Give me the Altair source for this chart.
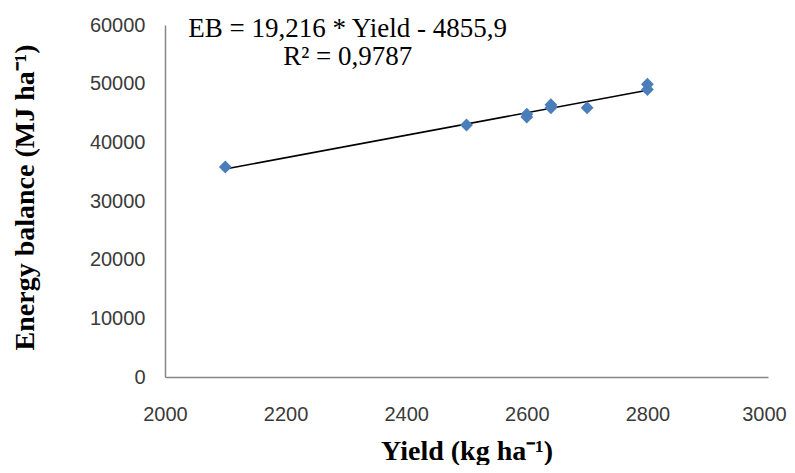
import altair as alt
import pandas as pd

yield_kg = [2100, 2500, 2600, 2600, 2640, 2640, 2700, 2800, 2800]
energy_balance = [35800, 42950, 44300, 44800, 45900, 46400, 45900, 49000, 49900]

# Annotation (equation of the trend line)
eq_lines = ["EB = 19,216 * Yield - 4855,9", "R\u00b2 = 0,9787"]
eq_x = [2303, 2303]
eq_y = [57950, 53130]

x_ticks = [2000, 2200, 2400, 2600, 2800, 3000]
y_ticks = [0, 10000, 20000, 30000, 40000, 50000, 60000]

df = pd.DataFrame({"Yield": yield_kg, "EB": energy_balance})
ann = pd.DataFrame({"label": eq_lines, "Yield": eq_x, "EB": eq_y})

x_scale = alt.Scale(domain=[2000, 3000], nice=False, zero=False)
y_scale = alt.Scale(domain=[0, 60000], nice=False)

axis_common = dict(
    grid=False,
    ticks=False,
    domainColor="#868686",
    domainWidth=1.5,
    labelFont="Liberation Sans",
    labelFontSize=20,
    labelColor="#3a3a3a",
    titleFont="Liberation Serif",
    titleFontSize=28,
    titleFontWeight="bold",
    titleColor="#000000",
)

x_enc = alt.X(
    "Yield:Q",
    scale=x_scale,
    axis=alt.Axis(
        values=x_ticks,
        format="d",
        labelPadding=27,
        labelOffset=alt.ExprRef(expr="datum.value == 3000 ? -4 : 0"),
        title="Yield (kg ha\u207b\u00b9)",
        titleBaseline="alphabetic",
        titleY=82,
        labelFlush=False,
        **axis_common,
    ),
)
y_enc = alt.Y(
    "EB:Q",
    scale=y_scale,
    axis=alt.Axis(
        values=y_ticks,
        format="d",
        labelPadding=20,
        title="Energy balance (MJ ha\u207b\u00b9)",
        titleBaseline="middle",
        titleX=-140,
        titleY=172,
        labelFlush=False,
        **axis_common,
    ),
)

points = alt.Chart(df).mark_point(
    shape="diamond", filled=True, size=165, color="#4a7ebb", opacity=1
).encode(x=x_enc, y=y_enc)

trend = (
    alt.Chart(df)
    .transform_regression("Yield", "EB", method="linear")
    .mark_line(color="#000000", strokeWidth=1.6)
    .encode(x=alt.X("Yield:Q", scale=x_scale), y=alt.Y("EB:Q", scale=y_scale))
)

text = alt.Chart(ann).mark_text(
    font="Liberation Serif", fontSize=27, color="#000000", align="center", baseline="alphabetic"
).encode(
    x=alt.X("Yield:Q", scale=x_scale),
    y=alt.Y("EB:Q", scale=y_scale),
    text="label:N",
)

chart = (
    alt.layer(trend, points, text)
    .properties(
        width=603,
        height=352,
        autosize=alt.AutoSizeParams(type="none"),
        padding={"left": 157, "top": 17, "right": 19, "bottom": 88},
        background="#ffffff",
    )
    .configure_view(stroke=None)
)

chart.save("out.html", embed_options={"renderer": "svg", "actions": False})
